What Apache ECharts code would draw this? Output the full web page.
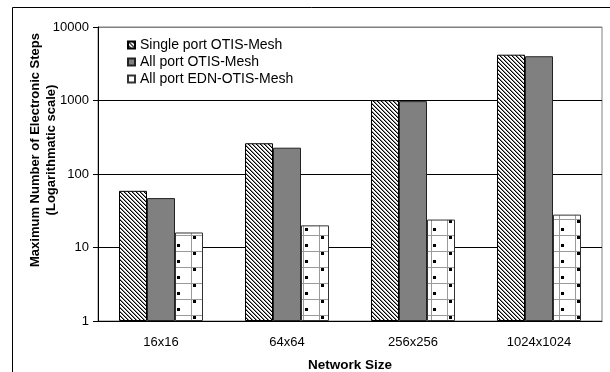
<!DOCTYPE html>
<html><head><meta charset="utf-8">
<script src="https://cdn.jsdelivr.net/npm/echarts@6/dist/echarts.min.js"></script>
<style>html,body{margin:0;padding:0;background:#fff}#c{width:610px;height:372px}</style>
</head><body><div id="c"></div>
<script>
const categories = ['16x16', '64x64', '256x256', '1024x1024'];
const seriesNames = ['Single port OTIS-Mesh', 'All port OTIS-Mesh', 'All port EDN-OTIS-Mesh'];
const singlePortOtis = [59, 262, 1010, 4200];
const allPortOtis = [47, 228, 980, 4000];
const allPortEdn = [16, 20, 24, 28];
const yTickLabels = ['1', '10', '100', '1000', '10000'];

function hatchCanvas() {
  const c = document.createElement('canvas'); c.width = 4; c.height = 4;
  const g = c.getContext('2d');
  g.fillStyle = '#fff'; g.fillRect(0, 0, 4, 4);
  g.fillStyle = '#000';
  for (let i = 0; i < 4; i++) { g.fillRect(i, i, 1, 1); }
  g.fillStyle = 'rgba(0,0,0,0.45)';
  for (let i = 0; i < 4; i++) { g.fillRect((i + 1) % 4, i, 1, 1); }
  return c;
}
function dotCanvas() {
  const c = document.createElement('canvas'); c.width = 32; c.height = 16;
  const g = c.getContext('2d');
  g.fillStyle = '#fff'; g.fillRect(0, 0, 32, 16);
  g.fillStyle = '#9a9a9a';
  g.fillRect(0, 11, 32, 1);
  g.fillRect(15, 0, 1, 16); g.fillRect(31, 0, 1, 16);
  g.fillStyle = '#000';
  g.fillRect(17, 4, 3, 3);
  g.fillRect(1, 12, 3, 3);
  return c;
}
const hatch = { image: hatchCanvas(), repeat: 'repeat' };
const dots = { image: dotCanvas(), repeat: 'repeat' };

const chart = echarts.init(document.getElementById('c'), null, { renderer: 'canvas' });
const FONT = 'Liberation Sans, Arial, sans-serif';
chart.setOption({
  animation: false,
  backgroundColor: '#fff',
  textStyle: { fontFamily: FONT, color: '#000' },
  grid: { left: 98, right: 8, top: 27, bottom: 51, containLabel: false, outerBoundsMode: 'none',
    show: true, backgroundColor: '#fff', borderColor: '#808080', borderWidth: 1 },
  legend: {
    orient: 'vertical', left: 122, top: 33, itemWidth: 7, itemHeight: 7, itemGap: 3, itemTextGap: 5,
    icon: 'rect',
    textStyle: { fontSize: 14, lineHeight: 14, color: '#000', fontFamily: FONT },
    data: seriesNames
  },
  xAxis: {
    type: 'category', data: categories,
    axisLine: { lineStyle: { color: '#000', width: 1 } },
    axisTick: { length: 5, lineStyle: { color: '#000' } },
    axisLabel: { fontSize: 13, margin: 15, color: '#000', fontFamily: FONT },
    name: 'Network Size', nameLocation: 'middle', nameGap: 37,
    nameTextStyle: { fontSize: 13.5, fontWeight: 'bold', color: '#000', fontFamily: FONT }
  },
  yAxis: {
    type: 'log', logBase: 10, min: 1, max: 10000,
    axisLine: { show: true, lineStyle: { color: '#000', width: 1 } },
    axisTick: { show: true, length: 5, lineStyle: { color: '#000' } },
    axisLabel: { fontSize: 13, margin: 9, color: '#000', fontFamily: FONT,
      formatter: v => yTickLabels[Math.round(Math.log10(v))] },
    splitLine: { show: true, lineStyle: { color: ['#000', '#000', '#000', '#000', '#808080'], width: 1 } }
  },
  graphic: [
    { type: 'polyline', shape: { points: [[12.5, 372], [12.5, 7.5], [610, 7.5]] }, style: { stroke: '#000', lineWidth: 1, fill: null }, silent: true },
    { type: 'text', x: 43, y: 150, rotation: Math.PI / 2,
      style: { text: 'Maximum Number of Electronic Steps\n(Logarithmatic scale)', align: 'center', verticalAlign: 'middle',
        fontSize: 13, fontWeight: 'bold', lineHeight: 16, fill: '#000', fontFamily: FONT } }
  ],
  series: [
    { name: seriesNames[0], type: 'bar', data: singlePortOtis, barWidth: 28, barGap: '0%',
      itemStyle: { color: hatch, borderColor: '#000', borderWidth: 1 } },
    { name: seriesNames[1], type: 'bar', data: allPortOtis, barWidth: 28, barGap: '0%',
      itemStyle: { color: '#808080', borderColor: '#222', borderWidth: 1 } },
    { name: seriesNames[2], type: 'bar', data: allPortEdn, barWidth: 28, barGap: '0%',
      itemStyle: { color: dots, borderColor: '#333', borderWidth: 1 } }
  ]
});
</script></body></html>
